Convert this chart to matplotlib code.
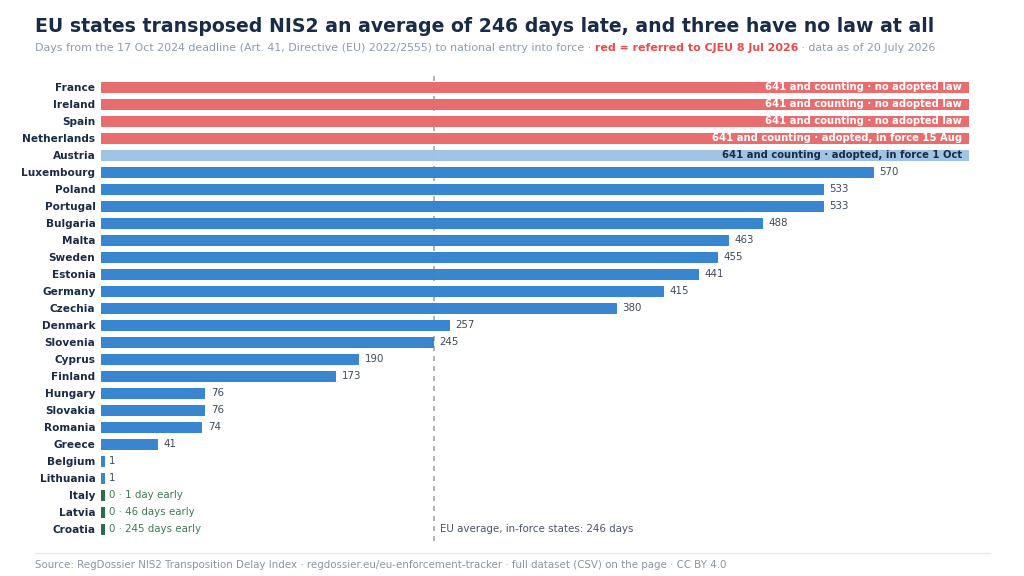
import matplotlib
matplotlib.use("Agg")
import matplotlib.pyplot as plt
from matplotlib.lines import Line2D

countries = ["France", "Ireland", "Spain", "Netherlands", "Austria", "Luxembourg",
             "Poland", "Portugal", "Bulgaria", "Malta", "Sweden", "Estonia", "Germany",
             "Czechia", "Denmark", "Slovenia", "Cyprus", "Finland", "Hungary", "Slovakia",
             "Romania", "Greece", "Belgium", "Lithuania", "Italy", "Latvia", "Croatia"]
days_late = [641, 641, 641, 641, 641, 570, 533, 533, 488, 463, 455, 441, 415, 380,
             257, 245, 190, 173, 76, 76, 74, 41, 1, 1, 0, 0, 0]
status = ["referred", "referred", "referred", "referred", "pending"] + ["inforce"] * 19 + ["early"] * 3
bar_labels = ["641 and counting · no adopted law", "641 and counting · no adopted law",
              "641 and counting · no adopted law", "641 and counting · adopted, in force 15 Aug",
              "641 and counting · adopted, in force 1 Oct"] + [None] * 19 + \
             ["0 · 1 day early", "0 · 46 days early", "0 · 245 days early"]
eu_average = 246
xmax = 641

colors = {"referred": "#e8686a", "pending": "#9cc2e6", "inforce": "#3182ce", "early": "#276749"}
label_colors = {"referred": "white", "pending": "#1a2b48", "inforce": "#3d4a5c", "early": "#3f7a58"}

fig = plt.figure(figsize=(10.24, 5.76), dpi=100)
W, H = 1024, 576
ax = fig.add_axes([101 / W, 1 - 537.5 / H, (969 - 101) / W, (537.5 - 78.5) / H])

n = len(countries)
ypos = list(range(n))
min_vis = 2.2
for y, c, v, s in zip(ypos, countries, days_late, status):
    w = max(v, min_vis)
    ax.barh(y, w, height=0.57, color=colors[s], edgecolor=colors[s], linewidth=0.7,
            joinstyle="round", alpha=0.97, zorder=2)
    lab = bar_labels[y]
    if s in ("referred", "pending"):
        ax.text(v - 5, y, lab, ha="right", va="center", fontsize=7.2, fontweight="bold",
                color=label_colors[s], zorder=4)
    elif s == "early":
        ax.text(w + 4, y, lab, ha="left", va="center", fontsize=7.4, color=label_colors[s], zorder=4)
    else:
        ax.text(v + 5, y, str(v), ha="left", va="center", fontsize=7.4, color=label_colors[s], zorder=4)

ax.set_ylim(n - 0.5, -0.5)
ax.set_xlim(0, xmax)
ax.set_yticks(ypos)
ax.set_yticklabels(countries, fontsize=7.6, fontweight="bold", color="#1a2b48")
ax.tick_params(axis="y", length=0, pad=4)
ax.set_xticks([])
for sp in ax.spines.values():
    sp.set_visible(False)

ax.plot([eu_average, eu_average], [n - 0.3, -0.85], color="#8d95a8", linestyle=(0, (3, 3)),
        linewidth=1.2, alpha=0.85, zorder=1, clip_on=False)
ax.text(eu_average + 4, n - 1, f"EU average, in-force states: {eu_average} days",
        ha="left", va="center", fontsize=7.4, color="#4a5568")

# Title & subtitle
fig.text(35 / W, 1 - 26 / H, "EU states transposed NIS2 an average of 246 days late, and three have no law at all",
         fontsize=13.6, fontweight="bold", color="#1a2b48", ha="left", va="center")

renderer = fig.canvas.get_renderer()
parts = [("Days from the 17 Oct 2024 deadline (Art. 41, Directive (EU) 2022/2555) to national entry into force · ", "#8a9ab0", "normal"),
         ("red = referred to CJEU 8 Jul 2026", "#e84a4a", "bold"),
         (" · data as of 20 July 2026", "#8a9ab0", "normal")]
x = 35 / W
for txt, col, wt in parts:
    t = fig.text(x, 1 - 48 / H, txt, fontsize=7.95, color=col, fontweight=wt, ha="left", va="center")
    bb = t.get_window_extent(renderer=renderer)
    x += bb.width / W

fig.add_artist(Line2D([35 / W, 990 / W], [1 - 553 / H, 1 - 553 / H], color="#e6e9ee", linewidth=1))
fig.text(35 / W, 1 - 565 / H,
         "Source: RegDossier NIS2 Transposition Delay Index · regdossier.eu/eu-enforcement-tracker · full dataset (CSV) on the page · CC BY 4.0",
         fontsize=7.4, color="#8a94a4", ha="left", va="center")

fig.savefig("out.png", dpi=100)
